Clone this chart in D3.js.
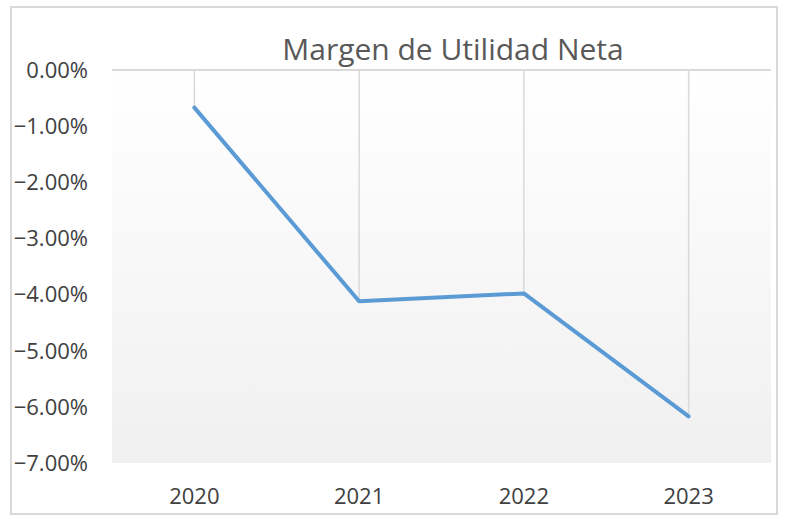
<!DOCTYPE html>
<html>
<head>
<meta charset="utf-8">
<title>Margen de Utilidad Neta</title>
<script src="https://cdn.jsdelivr.net/npm/d3@7"></script>
<style>
  body { margin: 0; background: #fff; }
  text { font-family: "Open Sans", "Noto Sans", sans-serif; }
</style>
</head>
<body>
<svg id="chart" width="785" height="522"></svg>
<script>
// data
var years = ["2020", "2021", "2022", "2023"];
var margin = [-0.0067, -0.0412, -0.0398, -0.0617];
var yTicks = [0, -0.01, -0.02, -0.03, -0.04, -0.05, -0.06, -0.07];

var svg = d3.select("#chart");
var plotL = 112, plotR = 771, plotT = 70, plotB = 463;

// outer frame
svg.append("rect")
  .attr("x", 11).attr("y", 7).attr("width", 766).attr("height", 507)
  .attr("fill", "#fff").attr("stroke", "#d9d9d9").attr("stroke-width", 2);

// background gradient of plot area
var grad = svg.append("defs").append("linearGradient")
  .attr("id", "bg").attr("x1", 0).attr("y1", 0).attr("x2", 0).attr("y2", 1);
grad.append("stop").attr("offset", "0%").attr("stop-color", "#ffffff");
grad.append("stop").attr("offset", "100%").attr("stop-color", "#f0f0f0");

var x = d3.scalePoint().domain(years).range([plotL, plotR]).padding(0.5);
var y = d3.scaleLinear().domain([-0.07, 0]).range([plotB, plotT]);

svg.append("rect")
  .attr("x", plotL).attr("y", plotT).attr("width", plotR - plotL).attr("height", plotB - plotT)
  .attr("fill", "url(#bg)");

// title
svg.append("text")
  .attr("x", 453).attr("y", 60)
  .attr("text-anchor", "middle")
  .attr("font-size", 30)
  .attr("fill", "#595959")
  .text("Margen de Utilidad Neta");

// y axis labels
svg.selectAll(".ylab").data(yTicks).enter().append("text")
  .attr("class", "ylab")
  .attr("x", 88).attr("y", function(d) { return y(d); })
  .attr("dy", "0.36em")
  .attr("text-anchor", "end")
  .attr("font-size", 22)
  .attr("fill", "#404040")
  .text(function(d) { return d3.format(".2%")(d); });

// x labels
svg.selectAll(".xlab").data(years).enter().append("text")
  .attr("class", "xlab")
  .attr("x", function(d) { return x(d); }).attr("y", 504)
  .attr("text-anchor", "middle")
  .attr("font-size", 22)
  .attr("fill", "#404040")
  .text(function(d) { return d; });

// drop lines from the axis to each point
svg.selectAll(".drop").data(years).enter().append("line")
  .attr("class", "drop")
  .attr("x1", function(d) { return x(d); })
  .attr("x2", function(d) { return x(d); })
  .attr("y1", y(0))
  .attr("y2", function(d, i) { return y(margin[i]); })
  .attr("stroke", "#d9d9d9").attr("stroke-width", 1.5);

// horizontal axis at 0
svg.append("line")
  .attr("x1", plotL).attr("x2", plotR)
  .attr("y1", y(0)).attr("y2", y(0))
  .attr("stroke", "#d9d9d9").attr("stroke-width", 2);

// the series
var line = d3.line()
  .x(function(d, i) { return x(years[i]); })
  .y(function(d) { return y(d); });

svg.append("path")
  .datum(margin)
  .attr("d", line)
  .attr("fill", "none")
  .attr("stroke", "#5b9bd5")
  .attr("stroke-width", 4)
  .attr("stroke-linecap", "round")
  .attr("stroke-linejoin", "round");
</script>
</body>
</html>
